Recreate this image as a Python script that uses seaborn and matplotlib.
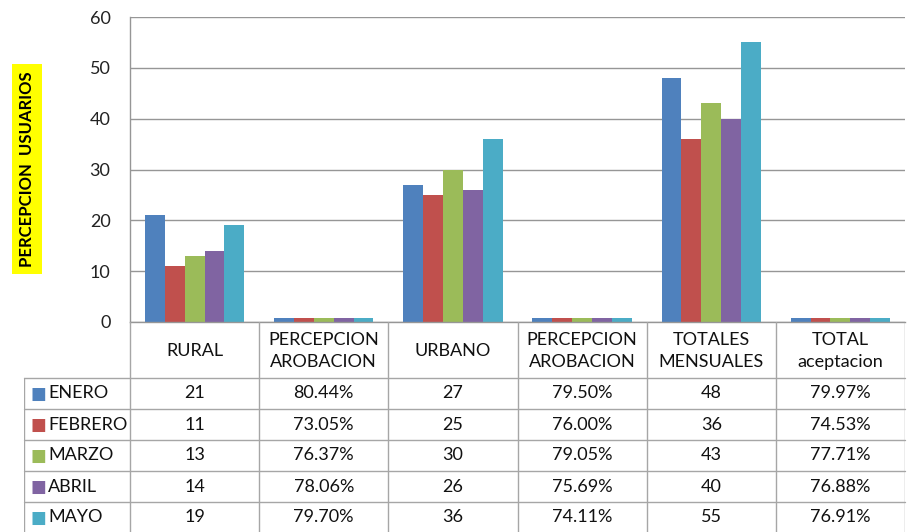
import pandas as pd
import matplotlib.pyplot as plt
import seaborn as sns

# data
months = ["ENERO", "FEBRERO", "MARZO", "ABRIL", "MAYO"]
col_labels = ["RURAL", "PERCEPCION\nAROBACION", "URBANO",
              "PERCEPCION\nAROBACION", "TOTALES\nMENSUALES", "TOTAL\naceptacion"]
rural = [21, 11, 13, 14, 19]
perc_rural = [80.44, 73.05, 76.37, 78.06, 79.70]   # percent
urbano = [27, 25, 30, 26, 36]
perc_urbano = [79.50, 76.00, 79.05, 75.69, 74.11]  # percent
totales = [48, 36, 43, 40, 55]
total_acept = [79.97, 74.53, 77.71, 76.88, 76.91]  # percent
is_pct = [False, True, False, True, False, True]
colors = ["#4F81BD", "#C0504D", "#9BBB59", "#8064A2", "#4BACC6"]

columns = [rural, perc_rural, urbano, perc_urbano, totales, total_acept]

rows = []
for ci, (vals, pct) in enumerate(zip(columns, is_pct)):
    for m, v in zip(months, vals):
        rows.append({"col": ci, "mes": m, "valor": v / 100 if pct else v})
df = pd.DataFrame(rows)

sns.set_theme(style="white")
plt.rcParams["font.family"] = ["Lato", "DejaVu Sans"]

W, H = 918, 532
fig = plt.figure(figsize=(W / 100, H / 100), dpi=100)

x_left, x_right = 130, 905
y_top, y_axis = 17, 322
ax = fig.add_axes([x_left / W, 1 - y_axis / H, (x_right - x_left) / W, (y_axis - y_top) / H])
sns.barplot(data=df, x="col", y="valor", hue="mes", hue_order=months, palette=colors,
            width=0.77, gap=0, linewidth=0, saturation=1, legend=False, ax=ax)
ax.set_ylim(0, 60)
ax.set_xlim(-0.5, 5.5)
ax.set_yticks(range(0, 61, 10))
ax.tick_params(axis="y", length=0, pad=14, labelsize=13, labelcolor="#222222")
ax.set_xticks([])
ax.set_xlabel("")
ax.set_ylabel("")
ax.yaxis.grid(True, color="#969696", linewidth=1)
ax.set_axisbelow(True)
for s in ["top", "right"]:
    ax.spines[s].set_visible(False)
for s in ["left", "bottom"]:
    ax.spines[s].set_color("#969696")
    ax.spines[s].set_linewidth(1)

fig.text(27 / W, 1 - 169 / H, "PERCEPCION  USUARIOS", rotation=90, ha="center", va="center",
         fontsize=12, fontweight="bold", color="black",
         bbox=dict(facecolor="#FFFF00", edgecolor="none", pad=5))

# data table under the chart
col_w = (x_right - x_left) / 6
label_left = 24
tab = fig.add_axes([label_left / W, 0, (x_right - label_left) / W, (H - y_axis) / H])
xl = -0.5 - (x_left - label_left) / col_w
tab.set_xlim(xl, 5.5)
tab.set_ylim(H - y_axis, 0)
tab.axis("off")
line_c = "#A6A6A6"
header_h = 56
row_h = 31
# horizontal lines
for i in range(len(months) + 1):
    y = header_h + i * row_h
    tab.plot([xl, 5.5], [y, y], color=line_c, lw=1, clip_on=False)
# vertical lines
tab.plot([xl, xl], [header_h, H - y_axis], color=line_c, lw=1)
for k in range(7):
    tab.plot([k - 0.5, k - 0.5], [0, H - y_axis], color=line_c, lw=1)

for ci, lab in enumerate(col_labels):
    tab.text(ci, header_h / 2 + 1, lab, ha="center", va="center", fontsize=13,
             linespacing=1.45, color="#111111")

for ri, m in enumerate(months):
    yc = header_h + ri * row_h + row_h / 2
    tab.text(xl + 7 / col_w, yc, "\u25A0", color=colors[ri], fontsize=12,
             ha="left", va="center", family=["DejaVu Sans"])
    tab.text(xl + 24 / col_w, yc, m, ha="left", va="center", fontsize=13, color="#111111")
    for ci, (vals, pct) in enumerate(zip(columns, is_pct)):
        txt = f"{vals[ri]:.2f}%" if pct else f"{vals[ri]}"
        tab.text(ci, yc, txt, ha="center", va="center", fontsize=13, color="#111111")

fig.savefig("out.png", dpi=100)
